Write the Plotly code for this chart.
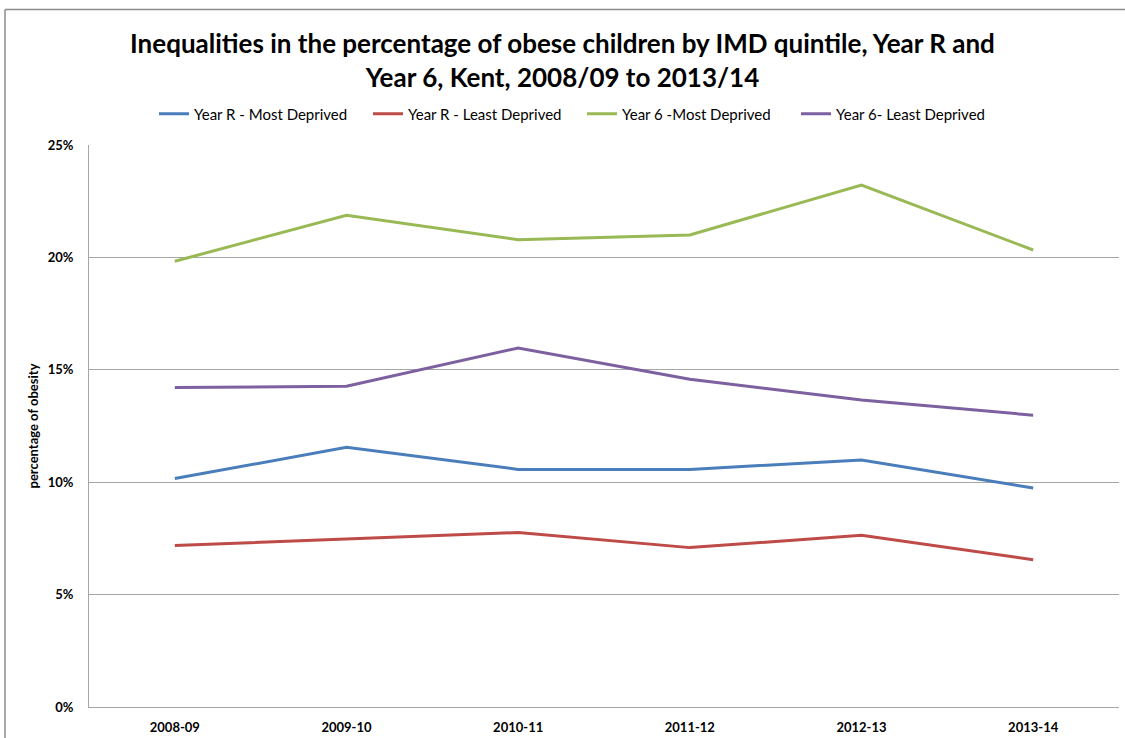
import plotly.graph_objects as go

years = ["2008-09", "2009-10", "2010-11", "2011-12", "2012-13", "2013-14"]
yr_most = [10.16, 11.55, 10.57, 10.57, 10.99, 9.74]
yr_least = [7.18, 7.46, 7.76, 7.09, 7.64, 6.55]
y6_most = [19.83, 21.87, 20.79, 21.0, 23.22, 20.33]
y6_least = [14.21, 14.27, 15.97, 14.58, 13.66, 12.98]

names = ["Year R - Most Deprived", "Year R - Least Deprived", "Year 6 -Most Deprived", "Year 6- Least Deprived"]
colors = ["#4A7EBB", "#BE4B48", "#98B954", "#7D60A0"]
series = [yr_most, yr_least, y6_most, y6_least]

W, H = 1125, 738
L, R, T, B = 89, 6, 145, 31

fig = go.Figure()
for n, c, s in zip(names, colors, series):
    fig.add_trace(go.Scatter(x=years, y=[v / 100 for v in s], name=n, mode="lines",
                             line=dict(color=c, width=3)))

pw = W - L - R
ph = H - T - B
def px_x(p):
    return (p - L) / pw
def px_y(p):
    return (H - B - p) / ph

fig.update_layout(
    width=W, height=H,
    margin=dict(l=L, r=R, t=T, b=B),
    paper_bgcolor="white", plot_bgcolor="white",
    font=dict(family="Lato, Open Sans, sans-serif", color="#000"),
    title=dict(text="<b>Inequalities in the percentage of obese children by IMD quintile, Year R and<br>Year 6, Kent, 2008/09 to 2013/14</b>",
               x=0.5, xref="container", y=1 - 53 / H, yanchor="middle", xanchor="center",
               font=dict(size=26, family="Lato, sans-serif", color="#000")),
    legend=dict(orientation="h", x=px_x(582), xanchor="center", xref="paper", y=px_y(114), yanchor="middle",
                font=dict(size=15, family="Lato, sans-serif"), itemwidth=30, entrywidth=169,
                entrywidthmode="pixels", tracegroupgap=0, bgcolor="rgba(0,0,0,0)"),
    xaxis=dict(type="category", range=[-0.5, 5.5], showgrid=False, showline=True, linecolor="#A6A6A6",
               linewidth=1, ticks="", tickfont=dict(size=13, family="Lato, sans-serif"), automargin=False,
               tickprefix="<b>", ticksuffix="</b>", fixedrange=True, zeroline=False, ticklabelstandoff=8),
    yaxis=dict(range=[0, 0.25], tickvals=[0, 0.05, 0.10, 0.15, 0.20, 0.25],
               ticktext=["<b>0%</b>", "<b>5%</b>", "<b>10%</b>", "<b>15%</b>", "<b>20%</b>", "<b>25%</b>"],
               showgrid=True, gridcolor="#A6A6A6", gridwidth=1, showline=True, linecolor="#A6A6A6",
               linewidth=1, ticks="", ticklen=0, tickfont=dict(size=13, family="Lato, sans-serif"),
               zeroline=False, ticklabelstandoff=12, automargin=False,
               title=dict(text="<b>percentage of obesity</b>", font=dict(size=13, family="Lato, sans-serif"), standoff=6)),
    showlegend=True,
)

# chart frame (outer border)
fig.add_shape(type="line", xref="paper", yref="paper", x0=px_x(5), x1=px_x(5), y0=px_y(9.5), y1=px_y(H + 5),
              line=dict(color="#8C8C8C", width=1.5))
fig.add_shape(type="line", xref="paper", yref="paper", x0=px_x(5), x1=px_x(W + 5), y0=px_y(9.5), y1=px_y(9.5),
              line=dict(color="#8C8C8C", width=1.5))

fig.write_html("out.html")
